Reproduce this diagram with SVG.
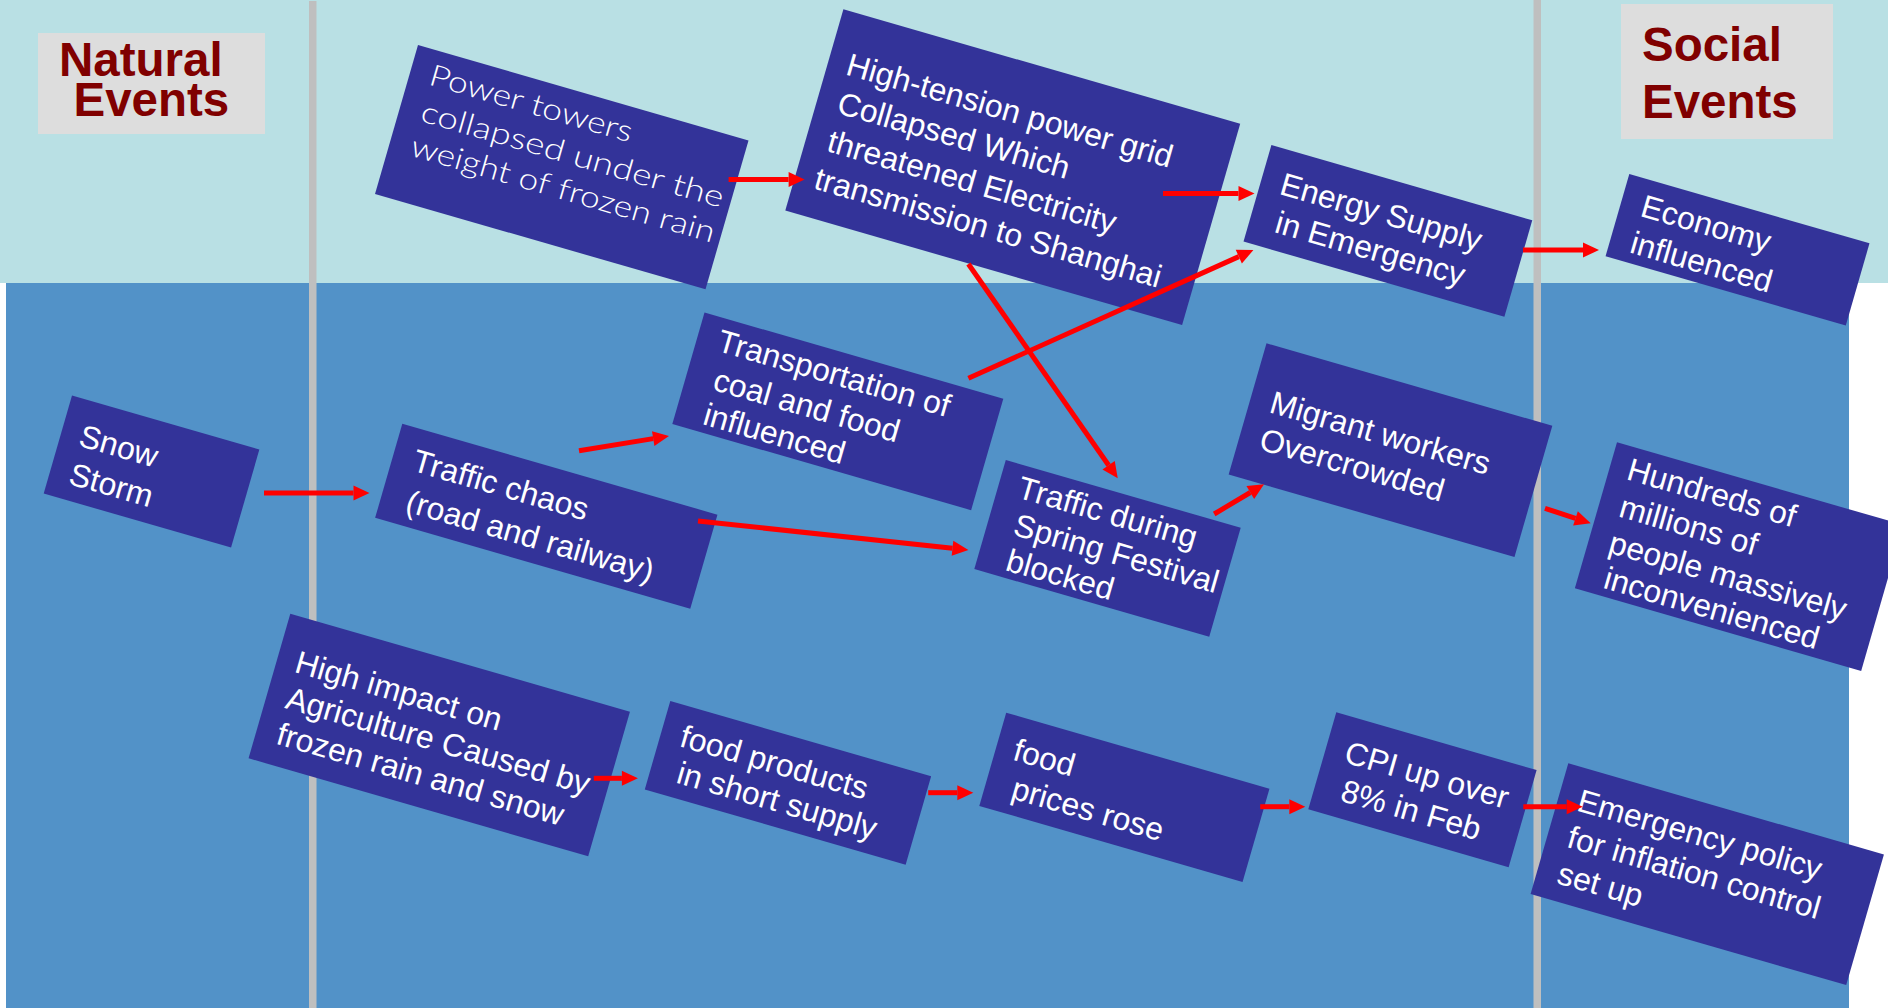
<svg xmlns="http://www.w3.org/2000/svg" width="1897" height="1008" viewBox="0 0 1897 1008">
<style>
.bg-top{fill:#B9E0E4}
.bg-bot{fill:#5292C8}
.sep{fill:#BFBFBF}
.label rect{fill:#DDDDDD}
.label text{fill:#800000;font-family:"Liberation Sans",Arial,sans-serif;font-weight:bold;font-size:47.5px}
.node rect{fill:#333399}
.node text{fill:#FFFFFF;font-family:"Liberation Sans",Arial,sans-serif;font-size:32px}
.node text.gothic{font-family:Lato,"Open Sans",sans-serif;font-weight:300;font-size:30px}
#connectors line{stroke:#FF0000;stroke-width:5;fill:none;marker-end:url(#ah)}
</style>
<defs>
<marker id="ah" markerUnits="userSpaceOnUse" markerWidth="17" markerHeight="16" refX="0" refY="8" orient="auto" overflow="visible">
<path d="M0,0.5 L16,8 L0,15.5 z" fill="#FF0000"/>
</marker>
</defs>
<rect x="0" y="0" width="1897" height="1008" fill="#FFFFFF"/>
<rect class="bg-top" x="0" y="0" width="1888" height="283"/>
<rect class="bg-bot" x="6" y="283" width="1843" height="725"/>
<rect class="sep" x="309" y="1" width="7.5" height="1007"/>
<rect class="sep" x="1533.5" y="0" width="7.5" height="1008"/>

<g id="label-natural" class="label">
<rect x="38" y="33" width="227" height="101"/>
<text x="59" y="76">Natural</text>
<text x="73.5" y="115.5">Events</text>
</g>
<g id="label-social" class="label">
<rect x="1621" y="4" width="212" height="135"/>
<text x="1642" y="61">Social</text>
<text x="1642" y="118">Events</text>
</g>

<g id="node-snow" class="node" transform="translate(72,395.5) rotate(16.1)">
<rect width="195" height="102"/>
<text x="19" y="46.5">Snow</text>
<text x="20" y="86">Storm</text>
</g>
<g id="node-power" class="node" transform="translate(418,45) rotate(16.1)">
<rect width="344" height="155"/>
<text class="gothic" x="20" y="35" textLength="210" lengthAdjust="spacingAndGlyphs">Power towers</text>
<text class="gothic" x="22" y="72.5" textLength="314" lengthAdjust="spacingAndGlyphs">collapsed under the</text>
<text class="gothic" x="22" y="108.5" textLength="315" lengthAdjust="spacingAndGlyphs">weight of frozen rain</text>
</g>
<g id="node-grid" class="node" transform="translate(843.4,9.3) rotate(16.1)">
<rect width="413" height="209.5"/>
<text x="19" y="62">High-tension power grid</text>
<text x="21" y="101.5">Collapsed Which</text>
<text x="22" y="141">threatened Electricity</text>
<text x="20" y="180.5">transmission to Shanghai</text>
</g>
<g id="node-energy" class="node" transform="translate(1271.4,145) rotate(16.1)">
<rect width="271.5" height="100.5"/>
<text x="20" y="45">Energy Supply</text>
<text x="26" y="83">in Emergency</text>
</g>
<g id="node-economy" class="node" transform="translate(1629.3,174) rotate(16.1)">
<rect width="250" height="85.5"/>
<text x="21" y="37.5">Economy</text>
<text x="21" y="75.5">influenced</text>
</g>
<g id="node-traffic" class="node" transform="translate(402.3,423.7) rotate(16.1)">
<rect width="328" height="98"/>
<text x="21" y="42.5">Traffic chaos</text>
<text x="26" y="83.5">(road and railway)</text>
</g>
<g id="node-transport" class="node" transform="translate(704.5,312.5) rotate(16.1)">
<rect width="311" height="116"/>
<text x="21" y="33.5">Transportation of</text>
<text x="28" y="72">coal and food</text>
<text x="28" y="108">influenced</text>
</g>
<g id="node-festival" class="node" transform="translate(1005.8,460) rotate(16.1)">
<rect width="244.5" height="113.5"/>
<text x="20" y="33">Traffic during</text>
<text x="26.5" y="70">Spring Festival</text>
<text x="29" y="106">blocked</text>
</g>
<g id="node-migrant" class="node" transform="translate(1266.5,343.3) rotate(16.1)">
<rect width="297.5" height="136.5"/>
<text x="20.5" y="65.5">Migrant workers</text>
<text x="21" y="104">Overcrowded</text>
</g>
<g id="node-people" class="node" transform="translate(1617,442.3) rotate(16.1)">
<rect width="298" height="152"/>
<text x="18" y="33">Hundreds of</text>
<text x="21" y="71">millions of</text>
<text x="21" y="108.5">people massively</text>
<text x="26" y="144">inconvenienced</text>
</g>
<g id="node-agri" class="node" transform="translate(290.3,613.7) rotate(16.1)">
<rect width="353.5" height="150.5"/>
<text x="19" y="55">High impact on</text>
<text x="20" y="92">Agriculture Caused by</text>
<text x="21" y="129">frozen rain and snow</text>
</g>
<g id="node-shortage" class="node" transform="translate(670.3,701) rotate(16.1)">
<rect width="271.5" height="92"/>
<text x="20" y="41">food products</text>
<text x="27" y="77">in short supply</text>
</g>
<g id="node-prices" class="node" transform="translate(1006.2,712.7) rotate(16.1)">
<rect width="274" height="97"/>
<text x="18" y="43.5">food</text>
<text x="27" y="81">prices rose</text>
</g>
<g id="node-cpi" class="node" transform="translate(1336.3,712.3) rotate(16.1)">
<rect width="208.5" height="101"/>
<text x="20" y="46">CPI up over</text>
<text x="27" y="84">8% in Feb</text>
</g>
<g id="node-policy" class="node" transform="translate(1568.3,763.3) rotate(16.1)">
<rect width="328.5" height="136"/>
<text x="20" y="43">Emergency policy</text>
<text x="20.5" y="81">for inflation control</text>
<text x="21" y="118.5">set up</text>
</g>

<g id="connectors">
<line x1="728.6" y1="179.5" x2="788.6" y2="179.5"/>
<line x1="1163" y1="193.5" x2="1238.5" y2="193.5"/>
<line x1="1523" y1="250" x2="1583" y2="250"/>
<line x1="264" y1="493" x2="353.5" y2="493"/>
<line x1="579" y1="450.7" x2="653.2" y2="438.6"/>
<line x1="698" y1="521" x2="952.5" y2="548.3"/>
<line x1="968.4" y1="378.3" x2="1238.8" y2="256.6"/>
<line x1="968.4" y1="264" x2="1108.6" y2="465.2"/>
<line x1="1214.2" y1="514" x2="1250.3" y2="492.5"/>
<line x1="1545" y1="508.3" x2="1575.5" y2="518.3"/>
<line x1="593.8" y1="778.3" x2="621.9" y2="778.3"/>
<line x1="928.2" y1="792.7" x2="957.3" y2="792.7"/>
<line x1="1260.2" y1="806.7" x2="1289.3" y2="806.7"/>
<line x1="1523.3" y1="806.7" x2="1566.7" y2="806.7"/>
</g>
<rect x="1888" y="0" width="9" height="1008" fill="#FFFFFF"/>
</svg>
